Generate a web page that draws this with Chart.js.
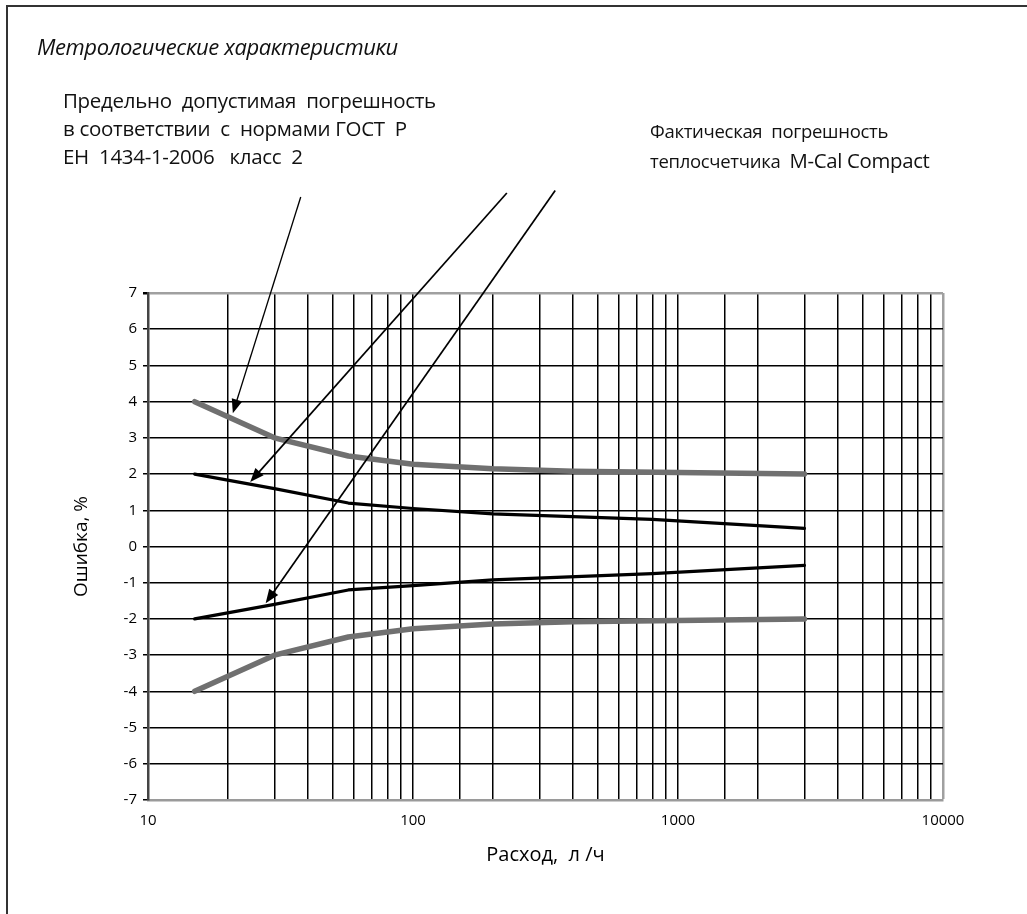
<!DOCTYPE html>
<html>
<head>
<meta charset="utf-8">
<script src="https://cdn.jsdelivr.net/npm/chart.js@4"></script>
<style>
  body { margin: 0; background: #fff; }
  #wrap { position: relative; width: 1027px; height: 914px; overflow: hidden; }
  #frame { position: absolute; left: 6px; top: 5px; width: 1030px; height: 920px;
           border-left: 2px solid #333; border-top: 2px solid #333; }
  .note { position: absolute; white-space: pre; font-family: "Open Sans", sans-serif;
          font-size: 20.5px; letter-spacing: -0.3px; color: #111; line-height: 1.2;
          transform: translateY(-50%); }
  .small { font-size: 18.5px; }
  .it { font-style: italic; font-size: 22px; letter-spacing: -0.4px; }
  #chartCanvas { position: absolute; left: 0; top: 0; }
</style>
</head>
<body>
<div id="wrap">
  <div id="frame"></div>
  <canvas id="chartCanvas" width="1027" height="914"></canvas>
  <div class="note it" style="left:37px; top:46px">Метрологические характеристики</div>
  <div class="note" style="left:63px; top:100px">Предельно  допустимая  погрешность</div>
  <div class="note" style="left:63px; top:128px">в соответствии  с  нормами ГОСТ  Р</div>
  <div class="note" style="left:63px; top:156px">ЕН  1434-1-2006   класс  2</div>
  <div class="note small" style="left:650px; top:131px">Фактическая  погрешность</div>
  <div class="note small" style="left:650px; top:160px">теплосчетчика  <span style="font-size:1.1em">M-Cal Compact</span></div>
</div>
<script>
// flow, l/h
const limitX = [15, 30, 57, 100, 200, 400, 1000, 3000];
const limitUpper = [4, 3, 2.5, 2.27, 2.15, 2.08, 2.04, 2];
const limitLower = [-4, -3, -2.5, -2.27, -2.14, -2.08, -2.04, -2];

const actualX = [15, 30, 57, 100, 200, 800, 3000];
const actualUpper = [2, 1.6, 1.2, 1.05, 0.9, 0.75, 0.5];
const actualLower = [-2, -1.6, -1.2, -1.08, -0.92, -0.75, -0.52];

const xTicks = [10, 100, 1000, 10000];

// arrows from the notes to the curves, in data units: [fromX, fromY, toX, toY]
const arrows = [
  [37.7, 9.65, 20.9, 3.68],
  [226, 9.76, 24.3, 1.78],
  [344, 9.83, 27.8, -1.57],
];

function toPoints(xs, ys) {
  return xs.map((x, i) => ({ x: x, y: ys[i] }));
}

const arrowPlugin = {
  id: "arrows",
  afterDatasetsDraw(chart) {
    const ctx = chart.ctx;
    const sx = chart.scales.x, sy = chart.scales.y;
    arrows.forEach((a, i) => {
      const x1 = sx.getPixelForValue(a[0]), y1 = sy.getPixelForValue(a[1]);
      const x2 = sx.getPixelForValue(a[2]), y2 = sy.getPixelForValue(a[3]);
      const ang = Math.atan2(y2 - y1, x2 - x1);
      const len = 14, half = 5.5;
      ctx.save();
      ctx.strokeStyle = "#000";
      ctx.fillStyle = "#000";
      ctx.lineWidth = i === 0 ? 1.3 : 1.7;
      ctx.beginPath();
      ctx.moveTo(x1, y1);
      ctx.lineTo(x2 - Math.cos(ang) * len * 0.8, y2 - Math.sin(ang) * len * 0.8);
      ctx.stroke();
      ctx.beginPath();
      ctx.moveTo(x2, y2);
      ctx.lineTo(x2 - Math.cos(ang) * len - Math.sin(ang) * half, y2 - Math.sin(ang) * len + Math.cos(ang) * half);
      ctx.lineTo(x2 - Math.cos(ang) * len + Math.sin(ang) * half, y2 - Math.sin(ang) * len - Math.cos(ang) * half);
      ctx.closePath();
      ctx.fill();
      ctx.restore();
    });
  },
};

const ctx = document.getElementById("chartCanvas").getContext("2d");
const chart = new Chart(ctx, {
  type: "line",
  data: {
    datasets: [
      { data: toPoints(limitX, limitUpper), borderColor: "#707070", borderWidth: 5.5 },
      { data: toPoints(limitX, limitLower), borderColor: "#707070", borderWidth: 5.5 },
      { data: toPoints(actualX, actualUpper), borderColor: "#000", borderWidth: 3.2 },
      { data: toPoints(actualX, actualLower), borderColor: "#000", borderWidth: 3.2 },
    ],
  },
  options: {
    responsive: false,
    animation: false,
    layout: { padding: { left: 60, top: 293, right: 84, bottom: 0 } },
    elements: {
      point: { radius: 0 },
      line: { tension: 0, borderCapStyle: "round", borderJoinStyle: "round", fill: false },
    },
    plugins: { legend: { display: false }, tooltip: { enabled: false } },
    scales: {
      x: {
        type: "logarithmic",
        min: 10,
        max: 10000,
        afterFit: (s) => { s.height = 114; },
        grid: {
          color: (c) => (c.tick && c.tick.value === 10000 ? "#a0a0a0" : "#000"),
          lineWidth: (c) => (c.tick && c.tick.value === 10000 ? 2.5 : 1.5),
          drawTicks: false,
        },
        border: { color: "#9a9a9a", width: 2.5 },
        ticks: {
          autoSkip: false,
          maxRotation: 0,
          padding: 12,
          color: "#000",
          font: { family: "Open Sans", size: 15 },
          callback: (v) => (xTicks.includes(v) ? String(v) : ""),
        },
        title: {
          display: true,
          text: "Расход,  л /ч",
          color: "#000",
          font: { family: "Open Sans", size: 20 },
          padding: { top: 0, bottom: 47 },
        },
      },
      y: {
        min: -7,
        max: 7,
        afterFit: (s) => { s.width = 88; },
        grid: {
          color: (c) => (c.tick && c.tick.value === 7 ? "#a0a0a0" : "#000"),
          lineWidth: (c) => (c.tick && c.tick.value === 7 ? 2.5 : 1.5),
          tickLength: 5,
          tickColor: "#000",
        },
        border: { color: "#444", width: 2.5 },
        ticks: {
          stepSize: 1,
          padding: 6,
          color: "#000",
          font: { family: "Open Sans", size: 15 },
        },
        title: {
          display: true,
          text: "Ошибка, %",
          color: "#000",
          font: { family: "Open Sans", size: 19 },
          padding: { top: 10, bottom: 0 },
        },
      },
    },
  },
  plugins: [arrowPlugin],
});
</script>
</body>
</html>
